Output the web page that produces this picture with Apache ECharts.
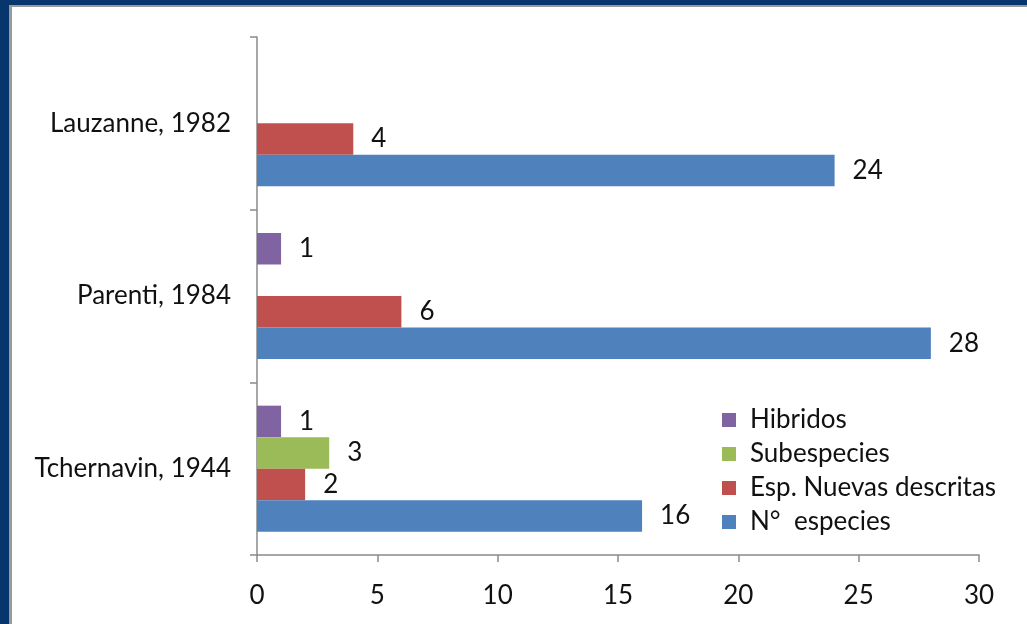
<!DOCTYPE html>
<html>
<head>
<meta charset="utf-8">
<script src="https://cdn.jsdelivr.net/npm/echarts@6/dist/echarts.min.js"></script>
<style>
  html, body { margin: 0; padding: 0; background: #06366b; width: 1027px; height: 624px; overflow: hidden; }
  #frame { position: absolute; left: 9px; top: 5px; width: 1015px; height: 617px;
           background: #fff; border-left: 3px solid #9a9a9a; border-top: 2px solid #9a9a9a; }
  #chart { width: 1015px; height: 617px; }
</style>
</head>
<body>
<div id="frame"><div id="chart"></div></div>
<script>
// Studies, listed from the bottom of the axis upwards
const categories = ['Tchernavin, 1944', 'Parenti, 1984', 'Lauzanne, 1982'];
const hibridos = [1, 1, null];
const subespecies = [3, null, null];
const espNuevas = [2, 6, 4];
const nEspecies = [16, 28, 24];
const xTicks = { min: 0, max: 30, interval: 5 };

const FONT = 'Lato, "Open Sans", sans-serif';
const FS = 26;
const axisGray = '#8a8a8a';

function barSeries(name, data, color) {
  return {
    name: name,
    type: 'bar',
    data: data,
    barWidth: 31.5,
    barGap: '0%',
    itemStyle: { color: color },
    label: {
      show: true,
      position: 'right',
      distance: 18,
      fontFamily: FONT,
      fontSize: FS,
      color: '#111'
    }
  };
}

const chart = echarts.init(document.getElementById('chart'), null, { renderer: 'canvas' });
chart.setOption({
  animation: false,
  backgroundColor: '#fff',
  grid: { left: 245, top: 30, width: 722, height: 518, containLabel: false },
  xAxis: {
    type: 'value',
    min: xTicks.min, max: xTicks.max, interval: xTicks.interval,
    axisLine: { show: true, lineStyle: { color: axisGray, width: 1.5 } },
    axisTick: { show: true, length: 7, lineStyle: { color: axisGray, width: 1.5 } },
    splitLine: { show: false },
    axisLabel: { fontFamily: FONT, fontSize: FS, color: '#111', margin: 28 }
  },
  yAxis: {
    type: 'category',
    data: categories,
    axisLine: { show: true, lineStyle: { color: axisGray, width: 1.5 } },
    axisTick: { show: true, length: 7, lineStyle: { color: axisGray, width: 1.5 } },
    axisLabel: { fontFamily: FONT, fontSize: FS, color: '#111', margin: 26 }
  },
  legend: {
    orient: 'vertical',
    left: 705, top: 395,
    itemWidth: 14, itemHeight: 14,
    itemGap: 8,
    icon: 'rect',
    data: ['Hibridos', 'Subespecies', 'Esp. Nuevas descritas', 'N°  especies'],
    textStyle: { fontFamily: FONT, fontSize: FS, color: '#111', padding: [0, 0, 0, 9] }
  },
  series: [
    barSeries('Hibridos', hibridos, '#8064A2'),
    barSeries('Subespecies', subespecies, '#9BBB59'),
    barSeries('Esp. Nuevas descritas', espNuevas, '#C0504D'),
    barSeries('N°  especies', nEspecies, '#4F81BD')
  ]
});
</script>
</body>
</html>
